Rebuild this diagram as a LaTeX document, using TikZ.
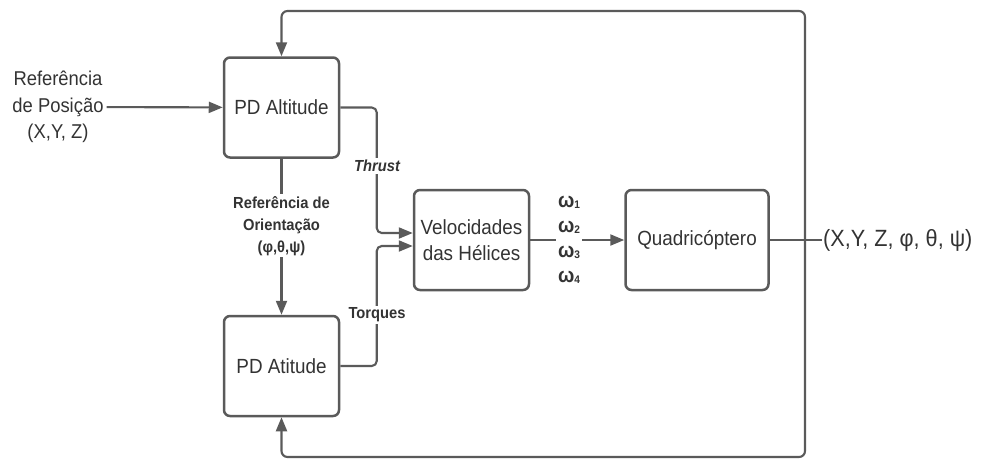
\documentclass[tikz,border=0pt]{standalone}
\usepackage{fontspec}
\setmainfont{Liberation Sans}[FakeStretch=0.92]
\usetikzlibrary{arrows.meta, positioning}

\definecolor{lncol}{HTML}{5A5A5A}
\definecolor{txtcol}{HTML}{333333}
\newcommand{\wsub}[1]{ω\raisebox{-1.5pt}{\fontsize{11}{10}\selectfont #1}}

\begin{document}
\begin{tikzpicture}[
            x=1pt, y=-1pt,
            node distance=156pt and 94pt,
            block/.style={draw=lncol, line width=2.5pt, rounded corners=6pt,
                          minimum width=115pt, minimum height=100pt,
                          text=txtcol, align=center, inner sep=2pt,
                          font=\fontsize{20.5}{26}\selectfont},
            txt/.style={text=txtcol, align=center, inner sep=3pt,
                        font=\fontsize{20}{26.5}\selectfont},
            arr/.style={-{Triangle[length=14pt, width=11pt]}, draw=lncol,
                        line width=2.1pt},
            wire/.style={draw=lncol, line width=2.1pt},
            lbl/.style={font=\fontsize{16}{22}\selectfont\bfseries,
                        text=txtcol, align=center, fill=white, inner sep=2pt}]

            \useasboundingbox (0,0) rectangle (984,459);

            %% ── Nodes ─────────────────────────────────────────────────────
            \node[block]                         (alt)  at (281.5,107.5) {PD Altitude};
            \node[block, below=of alt]           (att)  {PD Atitude};
            \node[block]                         (vel)  at (471.5,240) {Velocidades\\das Hélices};
            \node[block, minimum width=143pt, right=of vel]
                                                 (quad) {Quadricóptero};
            \node[txt]                           (ref)  at (58,107) {Referência\\de Posição\\(X,Y, Z)};
            \node[txt, anchor=west, inner sep=1pt, font=\fontsize{23.5}{26}\selectfont]
                                                 (out)  at (822,240) {(X,Y, Z, φ, θ, ψ)};

            \coordinate (fb)    at (805,240);
            \coordinate (fbtop) at (805,11);
            \coordinate (fbbot) at (805,457);
            \coordinate (vin1)  at ([yshift=7pt]vel.west);
            \coordinate (vin2)  at ([yshift=-6pt]vel.west);

            %% ── Connections ───────────────────────────────────────────────
            \draw[arr] (ref) -- (alt);

            \draw[arr] (alt) --
                node[lbl, pos=0.43] (ori) {Referência de\\Orientação\\(φ,θ,ψ)} (att);

            \draw[arr, rounded corners=5pt] (alt.east) -| ([xshift=-36pt]vin1) -- (vin1);
            \node[lbl, font=\fontsize{16}{20}\selectfont\bfseries\itshape]
                (thr) at (377,166) {Thrust};

            \draw[arr, rounded corners=5pt] (att.east) -| ([xshift=-36pt]vin2) -- (vin2);
            \node[lbl] (tor) at (377,315) {Torques};

            \draw[arr] (vel) -- (quad);
            \node[lbl, font=\fontsize{21}{25}\selectfont\bfseries]
                (omg) at (569,240) {\wsub1\\\wsub2\\\wsub3\\\wsub4};

            \draw[wire] (quad) -- (out);

            %% ── Feedback ──────────────────────────────────────────────────
            \draw[arr, rounded corners=6pt] (fb) -- (fbtop) -| (alt.north);
            \draw[arr, rounded corners=6pt] (fb) -- (fbbot) -| (att.south);

        \end{tikzpicture}
\end{document}
